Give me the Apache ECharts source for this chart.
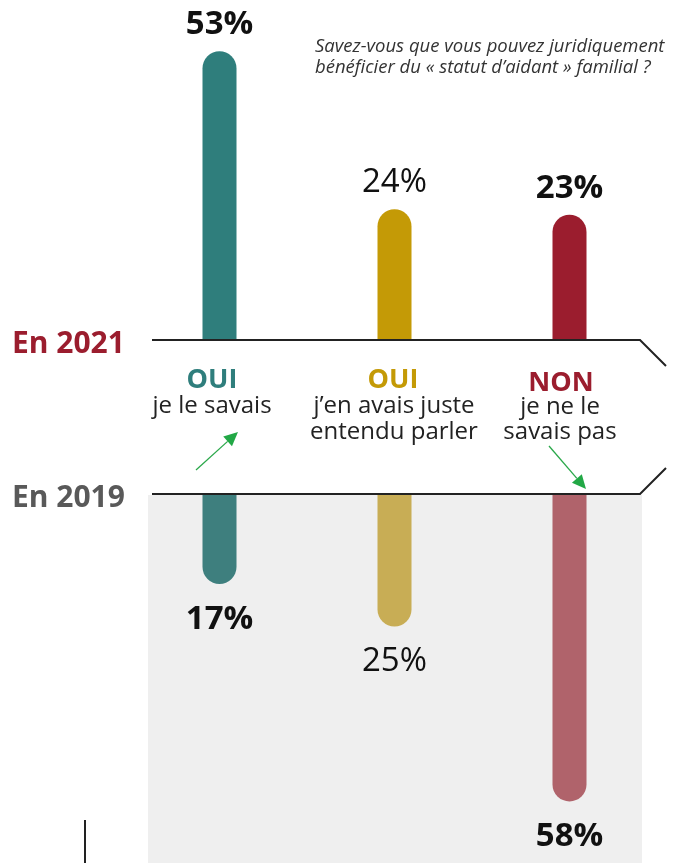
<!DOCTYPE html>
<html lang="fr">
<head>
  <meta charset="UTF-8">
  <title>Statut d'aidant familial</title>
  <script src="https://cdn.jsdelivr.net/npm/echarts@6.0.0/dist/echarts.min.js"></script>
  <style>
    * { margin: 0; padding: 0; box-sizing: border-box; }
    body { background: #ffffff; }
    #chart { width: 679px; height: 863px; }
  </style>
</head>
<body>
  <div id="chart"></div>
  <script>
    // données
    var categories = ['oui_savais', 'oui_entendu', 'non'];
    var values2021 = [53, 24, 23];
    var values2019 = [17, 25, 58];

    // styles
    var colors2021 = ['#2f7e7c', '#c49a06', '#9b1d2e'];
    var colors2019 = ['#3e7f7e', '#c8ad55', '#b0636b'];
    var weight2021 = ['bold', 'normal', 'bold'];
    var weight2019 = ['bold', 'normal', 'bold'];

    var font = '"Open Sans", "Noto Sans", sans-serif';

    var chartDom = document.getElementById('chart');
    var myChart = echarts.init(chartDom);

    function items(values, cols, weights) {
      return values.map(function (v, i) {
        return {
          value: v,
          itemStyle: { color: cols[i] },
          label: { fontWeight: weights[i] }
        };
      });
    }

    function arrow(x1, y1, x2, y2) {
      var dx = x2 - x1, dy = y2 - y1;
      var len = Math.sqrt(dx * dx + dy * dy);
      var ux = dx / len, uy = dy / len;
      var hl = 14, hw = 6.5;
      var bx = x2 - ux * hl, by = y2 - uy * hl;
      return [
        { type: 'line', shape: { x1: x1, y1: y1, x2: bx, y2: by },
          style: { stroke: '#2aa84a', lineWidth: 1.3 }, z: 10 },
        { type: 'polygon', shape: { points: [[x2, y2], [bx - uy * hw, by + ux * hw], [bx + uy * hw, by - ux * hw]] },
          style: { fill: '#22a846' }, z: 10 }
      ];
    }

    function label(x, y, text, color, size, weight, lh) {
      return {
        type: 'text', x: x, y: y,
        style: {
          text: text, fill: color, font: weight + ' ' + size + 'px ' + font,
          align: 'center', verticalAlign: 'middle', lineHeight: lh || size
        }
      };
    }

    var option = {
      animation: false,
      backgroundColor: '#ffffff',
      grid: [
        { left: 132, width: 525, top: 13, height: 327 },
        { left: 132, width: 525, top: 494, height: 318 }
      ],
      xAxis: [
        { type: 'category', gridIndex: 0, data: categories, show: false },
        { type: 'category', gridIndex: 1, data: categories, show: false }
      ],
      yAxis: [
        { type: 'value', gridIndex: 0, min: 0, max: 60, show: false },
        { type: 'value', gridIndex: 1, min: 0, max: 60, inverse: true, show: false }
      ],
      graphic: [
        // fond gris 2019
        { type: 'rect', shape: { x: 148, y: 495, width: 494, height: 368 },
          style: { fill: '#efefef' }, z: -10 },
        // lignes de séparation
        { type: 'polyline', shape: { points: [[152, 340], [640, 340], [666, 366]] },
          style: { stroke: '#222222', lineWidth: 2, fill: null }, z: 10 },
        { type: 'polyline', shape: { points: [[152, 494], [640, 494], [666, 468]] },
          style: { stroke: '#222222', lineWidth: 2, fill: null }, z: 10 },
        { type: 'line', shape: { x1: 85, y1: 820, x2: 85, y2: 863 },
          style: { stroke: '#222222', lineWidth: 2 } },
        // années
        { type: 'text', x: 12, y: 344,
          style: { text: 'En 2021', fill: '#9b1d2e', font: 'bold 30px ' + font, verticalAlign: 'middle' } },
        { type: 'text', x: 12, y: 498,
          style: { text: 'En 2019', fill: '#595959', font: 'bold 30px ' + font, verticalAlign: 'middle' } },
        // question
        { type: 'text', left: 315, top: 36,
          style: { text: 'Savez-vous que vous pouvez juridiquement\nbénéficier du « statut d’aidant » familial ?',
            fill: '#333333', font: 'italic 18.5px ' + font, lineHeight: 21 } },
        // libellés des catégories
        label(212, 380, 'OUI', '#2f7e7c', 27, 'bold'),
        label(212, 406, 'je le savais', '#222222', 24, 'normal'),
        label(393, 380, 'OUI', '#c49a06', 27, 'bold'),
        label(394, 419, 'j’en avais juste\nentendu parler', '#222222', 24, 'normal', 26),
        label(561, 383, 'NON', '#9b1d2e', 27, 'bold'),
        label(560, 420, 'je ne le\nsavais pas', '#222222', 24, 'normal', 25)
      ].concat(arrow(196, 470, 238, 432)).concat(arrow(549, 446, 586, 489)),
      series: [
        {
          type: 'bar',
          xAxisIndex: 0, yAxisIndex: 0,
          barWidth: 34,
          data: items(values2021, colors2021, weight2021),
          itemStyle: { borderRadius: [17, 17, 0, 0] },
          label: {
            show: true, position: 'top', distance: 10,
            formatter: '{c}%', color: '#111111', fontSize: 33, fontFamily: font
          }
        },
        {
          type: 'bar',
          xAxisIndex: 1, yAxisIndex: 1,
          barWidth: 34,
          data: items(values2019, colors2019, weight2019),
          itemStyle: { borderRadius: [0, 0, 17, 17] },
          label: {
            show: true, position: 'bottom', distance: 19,
            formatter: '{c}%', color: '#111111', fontSize: 33, fontFamily: font
          }
        }
      ]
    };

    myChart.setOption(option);
  </script>
</body>
</html>
